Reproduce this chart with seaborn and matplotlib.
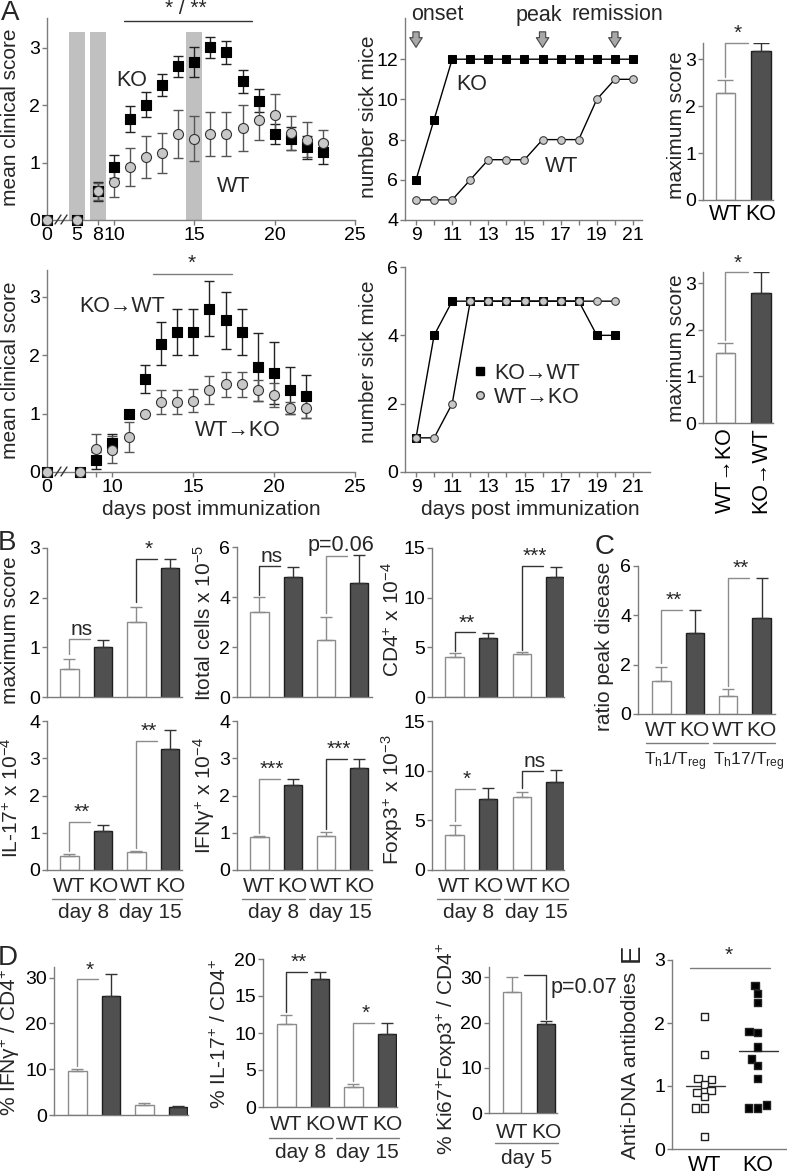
import numpy as np
import pandas as pd
import matplotlib
matplotlib.use("Agg")
import matplotlib.pyplot as plt
import matplotlib.transforms as mtransforms
from matplotlib.lines import Line2D
import seaborn as sns

# ── Data: panel A (top row) ──
days_a = [0, 5, 8, 10, 11, 12, 13, 14, 15, 16, 17, 18, 19, 20, 21, 22, 23]
ko_score = [0, 0, 0.5, 0.93, 1.76, 2.01, 2.35, 2.68, 2.75, 3.01, 2.92, 2.42, 2.08, 1.5, 1.42, 1.27, 1.18]
ko_score_err = [0, 0, 0.17, 0.2, 0.23, 0.22, 0.19, 0.18, 0.26, 0.18, 0.2, 0.2, 0.2, 0.18, 0.2, 0.2, 0.2]
wt_score = [0, 0, 0.5, 0.67, 0.93, 1.1, 1.17, 1.5, 1.42, 1.5, 1.5, 1.6, 1.75, 1.83, 1.52, 1.4, 1.35]
wt_score_err = [0, 0, 0.15, 0.27, 0.33, 0.36, 0.35, 0.42, 0.4, 0.38, 0.38, 0.4, 0.36, 0.36, 0.3, 0.3, 0.22]
shade_days = [5, 8, 15]

sick_days = [9, 10, 11, 12, 13, 14, 15, 16, 17, 18, 19, 20, 21]
ko_sick = [6, 9, 12, 12, 12, 12, 12, 12, 12, 12, 12, 12, 12]
wt_sick = [5, 5, 5, 6, 7, 7, 7, 8, 8, 8, 10, 11, 11]
arrow_days = [9, 16, 20]

max_groups = ["WT", "KO"]
max_score = [2.28, 3.17]
max_err = [0.27, 0.18]

# ── Data: panel A (transfer row) ──
days_t = [0, 8, 9, 10, 11, 12, 13, 14, 15, 16, 17, 18, 19, 20, 21, 22]
kowt_score = [0, 0, 0.2, 0.5, 1.0, 1.6, 2.2, 2.4, 2.4, 2.8, 2.6, 2.4, 1.8, 1.7, 1.4, 1.3]
kowt_err = [0, 0, 0.15, 0.15, 0, 0.24, 0.37, 0.4, 0.4, 0.47, 0.49, 0.4, 0.58, 0.53, 0.4, 0.37]
wtko_score = [0, 0, 0.4, 0.38, 0.6, 1.0, 1.2, 1.2, 1.22, 1.4, 1.5, 1.5, 1.4, 1.32, 1.1, 1.1]
wtko_err = [0, 0, 0.25, 0.23, 0.25, 0, 0.2, 0.2, 0.2, 0.24, 0.22, 0.22, 0.18, 0.2, 0.1, 0.18]

sick_days_t = [9, 10, 11, 12, 13, 14, 15, 16, 17, 18, 19, 20]
kowt_sick = [1, 4, 5, 5, 5, 5, 5, 5, 5, 5, 4, 4]
wtko_sick = [1, 1, 2, 5, 5, 5, 5, 5, 5, 5, 5, 5]

max_t_groups = ["WT→KO", "KO→WT"]
max_t_score = [1.5, 2.8]
max_t_err = [0.22, 0.45]

# ── Data: panels B, C, D ──
b_cats = ["WT d8", "KO d8", "WT d15", "KO d15"]
b_geno = ["WT", "KO", "WT", "KO"]
maxb = [0.57, 1.01, 1.52, 2.6]
maxb_err = [0.2, 0.14, 0.3, 0.18]
total = [3.4, 4.8, 2.3, 4.55]
total_err = [0.6, 0.42, 0.9, 1.15]
cd4 = [4.0, 5.95, 4.3, 12.1]
cd4_err = [0.45, 0.5, 0.2, 1.0]
il17 = [0.38, 1.05, 0.47, 3.25]
il17_err = [0.05, 0.17, 0.05, 0.5]
ifng = [0.88, 2.28, 0.92, 2.75]
ifng_err = [0.03, 0.15, 0.1, 0.23]
foxp3 = [3.5, 7.1, 7.3, 8.85]
foxp3_err = [1.0, 1.2, 0.6, 1.25]

c_cats = ["WT Th1", "KO Th1", "WT Th17", "KO Th17"]
ratio = [1.35, 3.3, 0.72, 3.88]
ratio_err = [0.57, 0.92, 0.3, 1.62]

ifng_pct = [9.6, 26.0, 2.2, 1.8]
ifng_pct_err = [0.5, 4.8, 0.5, 0.2]
il17_pct = [11.2, 17.3, 2.7, 9.9]
il17_pct_err = [1.3, 1.0, 0.4, 1.4]
ki67_cats = ["WT", "KO"]
ki67 = [26.8, 19.6]
ki67_err = [3.3, 0.7]

# ── Data: panel E ──
wt_dna = [2.1, 1.5, 1.12, 1.1, 1.02, 0.93, 0.9, 0.83, 0.65, 0.65, 0.2]
ko_dna = [2.6, 2.47, 2.33, 1.85, 1.87, 1.62, 1.43, 1.33, 1.12, 0.7, 0.65, 0.65]

# ── Style ──
sns.set_style("ticks")
plt.rcParams["font.family"] = ["Liberation Sans", "DejaVu Sans"]
plt.rcParams["mathtext.fontset"] = "custom"
plt.rcParams["mathtext.rm"] = "Liberation Sans"
plt.rcParams["mathtext.it"] = "Liberation Sans:italic"
plt.rcParams["mathtext.bf"] = "Liberation Sans:bold"

KO_BAR = "#505050"
WT_EDGE = "#8c8c8c"
KO_EDGE = "#1e1e1e"
AXIS = "#7c7c7c"
CIRCLE = "#c8c8c8"
SHADE = "#c0c0c0"
PAL = {"WT": "white", "KO": KO_BAR}
TICK, LAB, TXT, UL, STAR, LET = 14, 15, 15.5, 15, 15, 20

W, H = 787, 1174
fig = plt.figure(figsize=(W / 100, H / 100), dpi=100)


def add_px(l, t, r, b):
    ax = fig.add_axes([l / W, 1 - b / H, (r - l) / W, (b - t) / H])
    ax.px = (l, t, r, b)
    return ax


def yfrac(ax, y):
    l, t, r, b = ax.px
    return (b - y) / (b - t)


def ftext(x, y, s, size=LAB, **kw):
    kw.setdefault("ha", "center")
    kw.setdefault("va", "center")
    fig.text(x / W, 1 - y / H, s, fontsize=size, **kw)


def fline(xs, ys, color="#333", lw=1):
    fig.add_artist(Line2D([x / W for x in xs], [1 - y / H for y in ys],
                          color=color, lw=lw, transform=fig.transFigure))


def style(ax, xticks=True):
    sns.despine(ax=ax)
    for s in ["left", "bottom"]:
        ax.spines[s].set_color(AXIS)
        ax.spines[s].set_linewidth(1)
    ax.tick_params(colors=AXIS, labelcolor="black", labelsize=TICK,
                   length=3.5, width=1, pad=1.5)
    if not xticks:
        ax.tick_params(axis="x", length=0, labelbottom=False)
    ax.set_facecolor("none")
    ax.set_xlabel("")
    ax.set_ylabel("")


def piecewise(bp_days, bp_px):
    return (lambda x: np.interp(x, bp_days, bp_px),
            lambda p: np.interp(p, bp_px, bp_days))


def score_panel(ax, days, ko, ko_e, wt, wt_e):
    d = np.array(days)
    for v, e, col in [(ko, ko_e, "#222"), (wt, wt_e, "#555")]:
        v, e = np.array(v), np.array(e)
        m = e > 0
        ax.errorbar(d[m], v[m], yerr=e[m], fmt="none", ecolor=col,
                    elinewidth=1, capsize=3.5, capthick=1, zorder=2)
    sns.scatterplot(x=days, y=ko, marker="s", color="black", s=62,
                    edgecolor="black", linewidth=0.8, ax=ax, zorder=3, clip_on=False)
    sns.scatterplot(x=days, y=wt, marker="o", color=CIRCLE, s=52,
                    edgecolor="#333", linewidth=0.8, ax=ax, zorder=4, clip_on=False)


def bars(ax, cats, geno, vals, errs, cap=4):
    sns.barplot(x=cats, y=vals, hue=geno, palette=PAL, dodge=False, width=0.55,
                saturation=1, legend=False, errorbar=None, ax=ax, zorder=2)
    for p in ax.patches:
        white = p.get_facecolor()[0] > 0.9
        p.set_edgecolor(WT_EDGE if white else KO_EDGE)
        p.set_linewidth(1)
    pos = np.arange(len(cats))
    g, v, e = np.array(geno), np.array(vals), np.array(errs)
    for key, col in [("WT", WT_EDGE), ("KO", "#333")]:
        m = g == key
        ax.errorbar(pos[m], v[m], yerr=[np.zeros(m.sum()), e[m]], fmt="none",
                    ecolor=col, elinewidth=1, capsize=cap, capthick=1, zorder=3)


def bracket(ax, i, y0, y1, label, dx=0.62, lx=0.37, color=WT_EDGE, size=STAR):
    ax.plot([i, i, i + dx], [y0, y1, y1], color=color, lw=1, clip_on=False, zorder=1)
    ax.annotate(label, (i + lx, y1), xytext=(0, 0), textcoords="offset points",
                ha="center", va="bottom", fontsize=size, annotation_clip=False)


def under(ax, labels, y_lab, groups=None, y_line=None, y_grp=None,
          span=(-0.52, 1.36), gx=(0.42, 0.42), gsize=UL):
    tr = mtransforms.blended_transform_factory(ax.transData, ax.transAxes)
    for i, s in enumerate(labels):
        ax.text(i, yfrac(ax, y_lab), s, transform=tr, ha="center", va="center", fontsize=UL)
    if groups:
        for k, s in enumerate(groups):
            i = 2 * k
            ax.plot([i + span[0], i + span[1]], [yfrac(ax, y_line)] * 2, transform=tr,
                    color=AXIS, lw=1, clip_on=False)
            ax.text(i + gx[k], yfrac(ax, y_grp), s, transform=tr, ha="center",
                    va="center", fontsize=gsize)


# ── A top left: clinical score ──
ax = add_px(47, 18, 355, 220)
ax.set_xscale("function", functions=piecewise([-10, 0, 5, 8, 10, 25, 40],
                                              [-60, 0, 30, 50.5, 67, 308, 549]))
ax.vlines(shade_days, 0, 3.27, colors=SHADE, lw=11.5, capstyle="butt", zorder=0)
score_panel(ax, days_a, ko_score, ko_score_err, wt_score, wt_score_err)
ax.plot([10.6, 18.6], [3.47, 3.47], color="#333", lw=1, clip_on=False)
style(ax)
ax.set_xlim(0, 25)
ax.set_ylim(0, 3.52)
ax.set_xticks([0, 5, 8, 10, 15, 20, 25])
ax.set_yticks([0, 1, 2, 3])
ftext(186, 9, "* / **", size=STAR)
ftext(132, 80, "KO", size=TXT)
ftext(234, 187, "WT", size=TXT)
ftext(11, 117, "mean clinical score", rotation=90)
fline([55, 61], [224, 215])
fline([61, 67], [224, 215])

# ── A top middle: number sick mice ──
ax = add_px(405, 18, 642, 220)
sns.lineplot(x=sick_days, y=ko_sick, color="black", lw=1, marker="s", markersize=6,
             markerfacecolor="black", markeredgecolor="black", ax=ax, legend=False)
sns.lineplot(x=sick_days, y=wt_sick, color="black", lw=1, marker="o", markersize=5.5,
             markerfacecolor=CIRCLE, markeredgecolor="#333", ax=ax, legend=False)
for d in arrow_days:
    ax.annotate("", xy=(d, 12.45), xytext=(d, 13.5), annotation_clip=False,
                arrowprops=dict(arrowstyle="simple,head_length=0.7,head_width=0.9,tail_width=0.45",
                                fc="#a8a8a8", ec="#444", lw=0.8, mutation_scale=10))
style(ax)
ax.set_xlim(8.39, 21.5)
ax.set_ylim(4, 14.05)
ax.set_xticks(sick_days)
ax.set_xticklabels([str(d) if d % 2 else "" for d in sick_days])
ax.set_yticks([4, 6, 8, 10, 12])
ftext(437, 15, "onset", size=TXT)
ftext(539, 15, "peak", size=TXT)
ftext(617, 15, "remission", size=TXT)
ftext(472, 85, "KO", size=TXT)
ftext(562, 167, "WT", size=TXT)
ftext(369, 117, "number sick mice", rotation=90)

# ── A top right: maximum score ──
ax = add_px(703, 43, 773, 200)
bars(ax, max_groups, max_groups, max_score, max_err, cap=6)
bracket(ax, 0, 2.62, 3.36, "*", dx=0.63, lx=0.35)
style(ax)
ax.tick_params(axis="x", length=0, labelsize=TXT, pad=3)
ax.set_xlim(-0.63, 1.34)
ax.set_ylim(0, 3.35)
ax.set_yticks([0, 1, 2, 3])
ftext(676, 125, "maximum score", rotation=90)

# ── A bottom left: transfer clinical score ──
ax = add_px(47, 270, 355, 472)
ax.set_xscale("function", functions=piecewise([-10, 0, 8, 25, 40], [-41, 0, 33, 308, 551]))
score_panel(ax, days_t, kowt_score, kowt_err, wtko_score, wtko_err)
ax.plot([12.5, 17.4], [3.4, 3.4], color=AXIS, lw=1, clip_on=False)
style(ax)
ax.set_xlim(0, 25)
ax.set_ylim(0, 3.46)
ax.set_xticks([0, 9, 10, 15, 20, 25])
ax.set_xticklabels(["0", "", "10", "15", "20", "25"])
ax.set_yticks([0, 1, 2, 3])
ftext(192, 263, "*", size=STAR)
ftext(122, 307, "KO→WT", size=TXT)
ftext(238, 430, "WT→KO", size=TXT)
ftext(11, 370, "mean clinical score", rotation=90)
ftext(211, 509, "days post immunization", size=LAB)
fline([55, 61], [476, 467])
fline([61, 67], [476, 467])

# ── A bottom middle: transfer sick mice ──
ax = add_px(405, 267, 650, 472)
sns.lineplot(x=sick_days_t, y=kowt_sick, color="black", lw=1, marker="s", markersize=6,
             markerfacecolor="black", markeredgecolor="black", ax=ax, legend=False)
sns.lineplot(x=sick_days_t, y=wtko_sick, color="black", lw=1, marker="o", markersize=5.5,
             markerfacecolor=CIRCLE, markeredgecolor="#333", ax=ax, legend=False)
style(ax)
ax.set_xlim(8.39, 21.94)
ax.set_ylim(0, 6)
ax.set_xticks(sick_days)
ax.set_xticklabels([str(d) if d % 2 else "" for d in sick_days])
ax.set_yticks([0, 2, 4, 6])
handles = [Line2D([], [], ls="none", marker="s", color="black", ms=6),
           Line2D([], [], ls="none", marker="o", mfc=CIRCLE, mec="#333", ms=5.5)]
ax.legend(handles, ["KO→WT", "WT→KO"], loc="upper left", frameon=False,
          bbox_to_anchor=(0.24, yfrac(ax, 354)), borderaxespad=0, handlelength=0.7,
          handletextpad=0.3, labelspacing=0.15, fontsize=TXT)
ftext(369, 362, "number sick mice", rotation=90)
ftext(530, 509, "days post immunization", size=LAB)

# ── A bottom right: transfer maximum score ──
ax = add_px(703, 272, 773, 423)
bars(ax, max_t_groups, ["WT", "KO"], max_t_score, max_t_err, cap=6)
bracket(ax, 0, 1.78, 3.23, "*", dx=0.63, lx=0.35)
style(ax)
ax.tick_params(axis="x", length=0, labelsize=TXT, labelrotation=90, pad=3)
ax.set_xlim(-0.63, 1.34)
ax.set_ylim(0, 3.24)
ax.set_yticks([0, 1, 2, 3])
ftext(676, 348, "maximum score", rotation=90)

# ── B row 1 ──
ax = add_px(47, 548, 182, 697)
bars(ax, b_cats, b_geno, maxb, maxb_err)
bracket(ax, 0, 0.87, 1.17, "ns")
bracket(ax, 2, 1.92, 2.78, "*", color="#333")
style(ax, xticks=False)
ax.set_xlim(-0.67, 3.36)
ax.set_ylim(0, 3)
ax.set_yticks([0, 1, 2, 3])
ftext(11, 630, "maximum score", rotation=90)

ax = add_px(237, 547, 372, 697)
bars(ax, b_cats, b_geno, total, total_err)
bracket(ax, 0, 4.1, 5.24, "ns", color="#333")
bracket(ax, 2, 3.35, 5.64, "p=0.06", lx=0.45, size=TXT)
style(ax, xticks=False)
ax.set_xlim(-0.67, 3.38)
ax.set_ylim(0, 6)
ax.set_yticks([0, 2, 4, 6])
ftext(204, 623, r"Itotal cells x 10$^{-5}$", rotation=90)

ax = add_px(432, 548, 564, 697)
bars(ax, b_cats, b_geno, cd4, cd4_err)
bracket(ax, 0, 4.6, 6.5, "**", color="#333")
bracket(ax, 2, 4.7, 13.2, "***", color="#333")
style(ax, xticks=False)
ax.set_xlim(-0.67, 3.25)
ax.set_ylim(0, 15)
ax.set_yticks([0, 5, 10, 15])
ftext(392, 620, r"CD4$^{+}$ x 10$^{-4}$", rotation=90)

# ── C ──
ax = add_px(638, 566, 775, 714)
bars(ax, c_cats, b_geno, ratio, ratio_err)
bracket(ax, 0, 2.05, 4.23, "**")
bracket(ax, 2, 1.15, 5.53, "**")
style(ax, xticks=False)
ax.set_xlim(-0.7, 3.4)
ax.set_ylim(0, 6)
ax.set_yticks([0, 2, 4, 6])
under(ax, ["WT", "KO", "WT", "KO"], 730,
      [r"T$_\mathrm{h}$1/T$_\mathrm{reg}$", r"T$_\mathrm{h}$17/T$_\mathrm{reg}$"],
      743, 762, span=(-0.45, 1.4), gx=(0.42, 0.62), gsize=12.5)
ftext(604, 646, "ratio peak disease", rotation=90)

# ── B row 2 ──
ax = add_px(47, 721, 182, 870)
bars(ax, b_cats, b_geno, il17, il17_err)
bracket(ax, 0, 0.5, 1.3, "**")
bracket(ax, 2, 0.6, 3.47, "**")
style(ax, xticks=False)
ax.set_xlim(-0.67, 3.36)
ax.set_ylim(0, 4)
ax.set_yticks([0, 1, 2, 3, 4])
under(ax, ["WT", "KO", "WT", "KO"], 887, ["day 8", "day 15"], 899, 913)
ftext(11, 798, r"IL-17$^{+}$ x 10$^{-4}$", rotation=90)

ax = add_px(237, 721, 372, 870)
bars(ax, b_cats, b_geno, ifng, ifng_err)
bracket(ax, 0, 0.98, 2.45, "***")
bracket(ax, 2, 1.1, 2.98, "***", color="#333")
style(ax, xticks=False)
ax.set_xlim(-0.67, 3.38)
ax.set_ylim(0, 4)
ax.set_yticks([0, 1, 2, 3, 4])
under(ax, ["WT", "KO", "WT", "KO"], 887, ["day 8", "day 15"], 899, 913)
ftext(204, 795, r"IFNγ$^{+}$ x 10$^{-4}$", rotation=90)

ax = add_px(432, 721, 564, 870)
bars(ax, b_cats, b_geno, foxp3, foxp3_err)
bracket(ax, 0, 4.9, 8.2, "*")
bracket(ax, 2, 8.3, 10.0, "ns", color="#333")
style(ax, xticks=False)
ax.set_xlim(-0.67, 3.25)
ax.set_ylim(0, 15)
ax.set_yticks([0, 5, 10, 15])
under(ax, ["WT", "KO", "WT", "KO"], 887, ["day 8", "day 15"], 899, 913)
ftext(392, 800, r"Foxp3$^{+}$ x 10$^{-3}$", rotation=90)

# ── D ──
ax = add_px(54, 967, 188, 1115)
bars(ax, b_cats, b_geno, ifng_pct, ifng_pct_err)
bracket(ax, 0, 10.6, 29.6, "*")
style(ax, xticks=False)
ax.set_xlim(-0.7, 3.3)
ax.set_ylim(0, 32.3)
ax.set_yticks([0, 10, 20, 30])
ftext(10, 1043, r"% IFNγ$^{+}$ / CD4$^{+}$", rotation=90)

ax = add_px(263, 959, 397, 1107)
bars(ax, b_cats, b_geno, il17_pct, il17_pct_err)
bracket(ax, 0, 12.9, 18.3, "**", color="#333")
bracket(ax, 2, 3.5, 11.4, "*")
style(ax, xticks=False)
ax.set_xlim(-0.7, 3.3)
ax.set_ylim(0, 20)
ax.set_yticks([0, 5, 10, 15, 20])
under(ax, ["WT", "KO", "WT", "KO"], 1125, ["day 8", "day 15"], 1138, 1153)
ftext(220, 1034, r"% IL-17$^{+}$ / CD4$^{+}$", rotation=90)

ax = add_px(489, 967, 557, 1113)
bars(ax, ki67_cats, ki67_cats, ki67, ki67_err)
ax.plot([0.35, 1.0, 1.0], [30.5, 30.5, 20.8], color="#333", lw=1, clip_on=False)
ax.text(1.12, 27.7, "p=0.07", ha="left", va="center", fontsize=TXT)
style(ax, xticks=False)
ax.set_xlim(-0.68, 1.32)
ax.set_ylim(0, 32.3)
ax.set_yticks([0, 10, 20, 30])
under(ax, ["WT", "KO"], 1132, ["day 5"], 1143, 1158, span=(-0.5, 1.35))
ftext(447, 1049, r"% Ki67$^{+}$Foxp3$^{+}$ / CD4$^{+}$", rotation=90)

# ── E ──
ax = add_px(672, 960, 787, 1149)
dna = pd.DataFrame({"group": ["WT"] * len(wt_dna) + ["KO"] * len(ko_dna),
                    "value": wt_dna + ko_dna})
sns.swarmplot(data=dna, x="group", y="value", hue="group",
              palette={"WT": "white", "KO": "black"}, marker="s",
              size=5.2, edgecolor="#222", linewidth=1, legend=False, ax=ax)
for i, vals in enumerate([wt_dna, ko_dna]):
    ax.plot([i - 0.35, i + 0.38], [np.mean(vals)] * 2, color="#333", lw=1)
ax.plot([-0.28, 1.23], [2.87, 2.87], color=AXIS, lw=1, clip_on=False)
ax.text(0.45, 2.93, "*", ha="center", va="bottom", fontsize=STAR)
style(ax)
ax.tick_params(axis="x", length=0, labelsize=TXT, pad=4)
ax.set_xlim(-0.62, 1.55)
ax.set_ylim(0, 3)
ax.set_yticks([0, 1, 2, 3])
ftext(630, 1065, "Anti-DNA antibodies", rotation=90)

# ── Panel letters ──
ftext(10, 13, "A", size=LET)
ftext(7, 543, "B", size=LET)
ftext(605, 547, "C", size=LET)
ftext(8, 958, "D", size=LET)
ftext(632, 953, "E", size=LET, rotation=90)

fig.savefig("out.png", dpi=100, facecolor="white")
